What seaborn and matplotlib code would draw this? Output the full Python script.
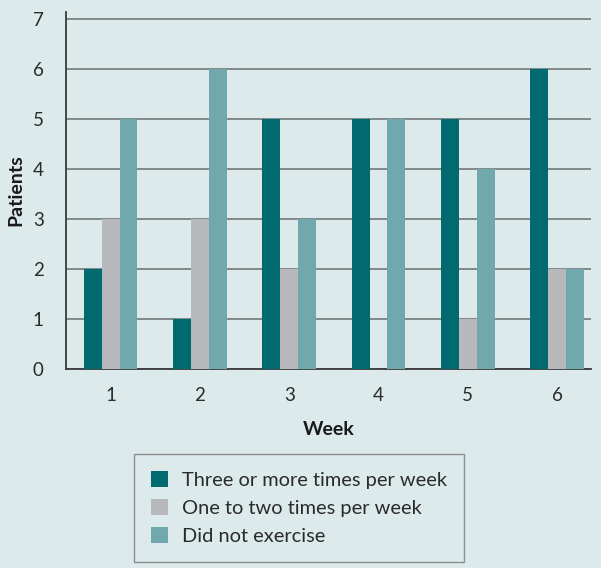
import matplotlib
matplotlib.use("Agg")
import matplotlib.pyplot as plt
import seaborn as sns
import pandas as pd
from matplotlib.patches import Patch

weeks = ["1", "2", "3", "4", "5", "6"]
series_names = ["Three or more times per week", "One to two times per week", "Did not exercise"]
three_plus = [2, 1, 5, 5, 5, 6]
one_two = [3, 3, 2, 0, 1, 2]
none_ex = [5, 6, 3, 5, 4, 2]
colors = ["#006a6e", "#b6b8bb", "#70a8ae"]

rows = []
for name, vals in zip(series_names, [three_plus, one_two, none_ex]):
    for w, v in zip(weeks, vals):
        rows.append({"Week": w, "Patients": v, "Series": name})
df = pd.DataFrame(rows)

bg = "#ddeaec"
sns.set_theme(style="white")
plt.rcParams["font.family"] = ["Lato", "DejaVu Sans"]

fig = plt.figure(figsize=(6.01, 5.68), dpi=100, facecolor=bg)
ax = fig.add_axes([0.1098, 0.3504, 0.9834 - 0.1098, 0.979 - 0.3504])
ax.set_facecolor(bg)

sns.barplot(data=df, x="Week", y="Patients", hue="Series", hue_order=series_names,
            palette=colors, width=0.6, saturation=1, ax=ax, legend=False, zorder=3)
for p in ax.patches:
    p.set_edgecolor("none")

ax.set_ylim(0, 7.14)
ax.set_xlim(-0.5, 5.38)
ax.set_yticks(range(0, 8))
ax.yaxis.grid(True, color="#6a6f70", linewidth=1.1, zorder=0)
ax.set_axisbelow(True)
for s in ["top", "right"]:
    ax.spines[s].set_visible(False)
for s in ["left", "bottom"]:
    ax.spines[s].set_color("#3a3a3a")
    ax.spines[s].set_linewidth(1.3)
ax.tick_params(axis="both", length=0, labelsize=13.5, colors="#2a2a2a")
ax.tick_params(axis="y", pad=16)
ax.tick_params(axis="x", pad=13)
ax.set_xlabel("Week", fontsize=14, fontweight="bold", color="#1a1a1a", labelpad=12)
ax.set_ylabel("Patients", fontsize=14, fontweight="bold", color="#1a1a1a", labelpad=6)

handles = [Patch(facecolor=c, edgecolor="none") for c in colors]
leg = fig.legend(handles, series_names, loc="lower center", bbox_to_anchor=(0.497, 0.0106),
                 frameon=True, fontsize=14.4, handlelength=0.85, handleheight=0.85,
                 handletextpad=0.7, labelspacing=0.5, borderpad=0.85, borderaxespad=0,
                 fancybox=False, edgecolor="#777777", facecolor=bg)
leg.get_frame().set_linewidth(1.0)
for t in leg.get_texts():
    t.set_color("#2a2a2a")

fig.savefig("out.png", dpi=100, facecolor=bg)
